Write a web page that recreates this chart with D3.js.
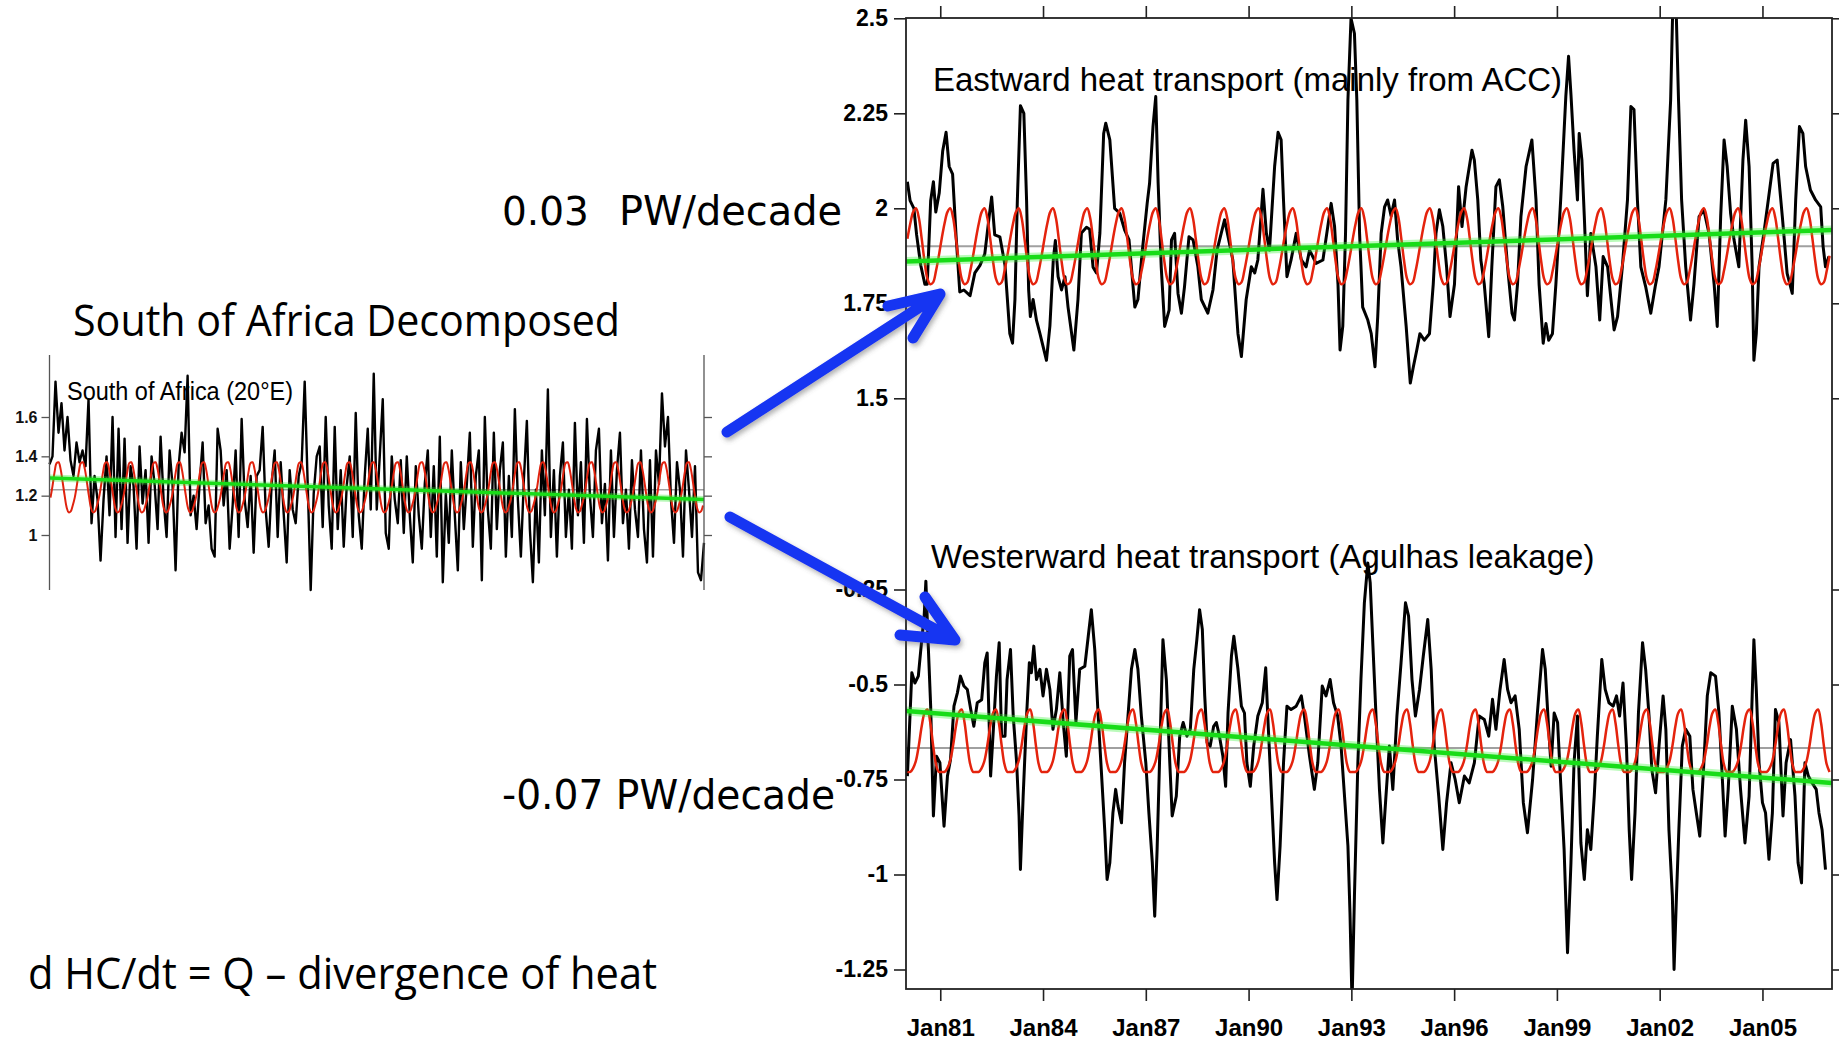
<!DOCTYPE html>
<html>
<head>
<meta charset="utf-8">
<script src="https://cdn.jsdelivr.net/npm/d3@7"></script>
<style>
  html, body { margin: 0; padding: 0; background: #fff; }
  svg { display: block; }
</style>
</head>
<body>
<svg id="slide" width="1839" height="1044"></svg>
<script>
// ---- values ----
var years = [1980, 2007.03];
var tickYears = [1981, 1984, 1987, 1990, 1993, 1996, 1999, 2002, 2005];
var eastTicks = [2.5, 2.25, 2, 1.75, 1.5];
var westTicks = [-0.25, -0.5, -0.75, -1, -1.25];
var africaTicks = [1.6, 1.4, 1.2, 1];

// seasonal cycle (Jan..Dec), repeated every year (red)
var eastSeason = [1.92, 1.96, 1.99, 2.0, 1.975, 1.92, 1.86, 1.815, 1.80, 1.805, 1.835, 1.875];
var westSeason = [-0.73, -0.73, -0.72, -0.70, -0.66, -0.61, -0.575, -0.566, -0.60, -0.66, -0.71, -0.73];
var africaSeason = [1.19, 1.25, 1.32, 1.365, 1.37, 1.335, 1.27, 1.20, 1.14, 1.115, 1.12, 1.15];

// mean (grey) and linear trend start/end (green)
var eastMean = 1.90, westMean = -0.667, africaMean = 1.23;
var eastTrend = [1.86, 1.943];
var westTrend = [-0.57, -0.759];
var africaTrend = [1.29, 1.18];

// eastward heat transport, [year, PW]
var eastward = [[1980.04,2.07],[1980.12,2.02],[1980.23,2.00],[1980.31,1.93],[1980.43,1.85],[1980.55,1.80],[1980.62,1.80],[1980.72,2.02],[1980.80,2.07],[1980.87,1.99],[1980.97,2.04],[1981.07,2.15],[1981.17,2.20],[1981.26,2.11],[1981.36,2.09],[1981.46,1.93],[1981.57,1.78],[1981.69,1.785],[1981.87,1.77],[1982.01,1.83],[1982.16,1.85],[1982.30,1.88],[1982.43,1.98],[1982.50,2.03],[1982.59,1.93],[1982.74,1.925],[1982.89,1.85],[1983.03,1.67],[1983.11,1.645],[1983.18,1.76],[1983.25,2.02],[1983.34,2.27],[1983.44,2.25],[1983.52,2.02],[1983.58,1.785],[1983.63,1.715],[1983.71,1.76],[1983.81,1.705],[1983.91,1.67],[1984.10,1.60],[1984.20,1.69],[1984.30,1.865],[1984.36,1.915],[1984.44,1.82],[1984.54,1.785],[1984.64,1.82],[1984.73,1.74],[1984.90,1.627],[1985.02,1.76],[1985.12,1.935],[1985.27,1.95],[1985.36,1.945],[1985.46,1.845],[1985.56,1.83],[1985.66,1.935],[1985.77,2.197],[1985.83,2.224],[1985.95,2.18],[1986.09,2.00],[1986.24,1.987],[1986.38,1.943],[1986.51,1.917],[1986.68,1.74],[1986.77,1.76],[1986.90,1.89],[1987.04,2.013],[1987.11,2.066],[1987.21,2.215],[1987.29,2.294],[1987.36,2.066],[1987.45,1.846],[1987.55,1.689],[1987.68,1.732],[1987.75,1.917],[1987.84,1.934],[1987.94,1.776],[1988.04,1.724],[1988.13,1.794],[1988.26,1.925],[1988.38,1.917],[1988.52,1.846],[1988.62,1.76],[1988.81,1.724],[1988.96,1.785],[1989.08,1.89],[1989.30,1.97],[1989.54,1.864],[1989.69,1.67],[1989.79,1.61],[1989.93,1.76],[1990.08,1.846],[1990.18,1.83],[1990.27,1.864],[1990.42,2.05],[1990.52,1.934],[1990.61,1.89],[1990.76,2.11],[1990.86,2.20],[1990.95,2.18],[1991.02,2.02],[1991.12,1.82],[1991.24,1.864],[1991.39,1.934],[1991.54,1.864],[1991.68,1.846],[1991.78,1.89],[1991.97,1.855],[1992.17,1.864],[1992.41,2.013],[1992.51,1.952],[1992.61,1.80],[1992.67,1.627],[1992.75,1.69],[1992.83,1.934],[1992.90,2.285],[1992.99,2.50],[1993.09,2.46],[1993.16,2.285],[1993.24,1.934],[1993.33,1.74],[1993.48,1.706],[1993.58,1.67],[1993.69,1.583],[1993.77,1.715],[1993.87,1.934],[1993.97,2.004],[1994.06,2.022],[1994.16,1.98],[1994.26,2.022],[1994.35,1.917],[1994.45,1.846],[1994.60,1.689],[1994.72,1.54],[1994.81,1.583],[1994.91,1.627],[1995.00,1.67],[1995.13,1.653],[1995.28,1.67],[1995.39,1.80],[1995.47,1.934],[1995.57,1.996],[1995.67,1.952],[1995.78,1.846],[1995.88,1.715],[1996.01,1.80],[1996.13,2.057],[1996.23,1.952],[1996.35,2.057],[1996.52,2.153],[1996.59,2.127],[1996.69,2.022],[1996.78,1.864],[1996.88,1.80],[1997.01,1.662],[1997.10,1.846],[1997.22,2.057],[1997.32,2.075],[1997.42,2.004],[1997.56,1.846],[1997.69,1.724],[1997.76,1.706],[1997.85,1.80],[1997.95,1.978],[1998.10,2.11],[1998.27,2.18],[1998.39,2.022],[1998.48,1.80],[1998.60,1.645],[1998.68,1.697],[1998.76,1.653],[1998.87,1.67],[1998.97,1.80],[1999.11,2.022],[1999.26,2.294],[1999.34,2.40],[1999.41,2.30],[1999.50,2.153],[1999.60,2.022],[1999.65,2.197],[1999.73,2.127],[1999.80,1.978],[1999.89,1.77],[1999.99,1.934],[2000.14,1.846],[2000.25,1.706],[2000.35,1.873],[2000.48,1.846],[2000.67,1.68],[2000.77,1.715],[2000.91,1.846],[2001.06,2.022],[2001.16,2.268],[2001.25,2.26],[2001.35,2.022],[2001.45,1.846],[2001.59,1.794],[2001.74,1.724],[2001.87,1.794],[2001.98,1.846],[2002.18,2.022],[2002.32,2.285],[2002.39,2.56],[2002.47,2.56],[2002.55,2.285],[2002.64,2.022],[2002.76,1.846],[2002.90,1.706],[2003.00,1.80],[2003.15,1.978],[2003.29,1.996],[2003.44,1.934],[2003.59,1.80],[2003.68,1.689],[2003.78,1.978],[2003.88,2.18],[2003.97,2.11],[2004.07,1.987],[2004.17,1.917],[2004.31,1.846],[2004.43,2.127],[2004.51,2.232],[2004.61,2.11],[2004.70,1.846],[2004.75,1.60],[2004.82,1.67],[2004.90,1.846],[2005.04,1.934],[2005.17,2.022],[2005.31,2.118],[2005.43,2.127],[2005.58,1.978],[2005.72,1.829],[2005.87,1.776],[2005.97,2.022],[2006.08,2.215],[2006.18,2.197],[2006.26,2.11],[2006.40,2.048],[2006.55,2.022],[2006.70,2.004],[2006.77,1.90],[2006.84,1.846],[2006.94,1.873]];

// westward heat transport (Agulhas leakage), [year, PW]
var westward = [[1980.04,-0.741],[1980.10,-0.618],[1980.17,-0.469],[1980.26,-0.496],[1980.36,-0.478],[1980.46,-0.382],[1980.53,-0.32],[1980.58,-0.228],[1980.65,-0.399],[1980.72,-0.557],[1980.80,-0.846],[1980.89,-0.689],[1980.99,-0.706],[1981.11,-0.873],[1981.21,-0.741],[1981.30,-0.697],[1981.40,-0.557],[1981.50,-0.522],[1981.59,-0.478],[1981.69,-0.504],[1981.79,-0.513],[1981.89,-0.566],[1981.98,-0.61],[1982.08,-0.548],[1982.21,-0.54],[1982.30,-0.443],[1982.37,-0.417],[1982.47,-0.741],[1982.55,-0.618],[1982.64,-0.478],[1982.72,-0.39],[1982.79,-0.636],[1982.89,-0.636],[1982.95,-0.487],[1983.05,-0.408],[1983.13,-0.583],[1983.23,-0.706],[1983.30,-0.846],[1983.34,-0.987],[1983.42,-0.794],[1983.52,-0.583],[1983.60,-0.443],[1983.66,-0.469],[1983.73,-0.399],[1983.81,-0.487],[1983.91,-0.46],[1984.00,-0.53],[1984.10,-0.46],[1984.20,-0.513],[1984.29,-0.618],[1984.39,-0.566],[1984.49,-0.469],[1984.59,-0.60],[1984.68,-0.689],[1984.78,-0.425],[1984.86,-0.408],[1984.96,-0.60],[1985.07,-0.46],[1985.22,-0.452],[1985.32,-0.373],[1985.41,-0.303],[1985.51,-0.408],[1985.61,-0.583],[1985.70,-0.724],[1985.80,-0.882],[1985.87,-1.013],[1985.95,-0.969],[1986.04,-0.838],[1986.12,-0.776],[1986.19,-0.82],[1986.29,-0.864],[1986.38,-0.706],[1986.48,-0.583],[1986.58,-0.46],[1986.68,-0.408],[1986.77,-0.46],[1986.87,-0.583],[1987.00,-0.706],[1987.09,-0.838],[1987.19,-0.969],[1987.26,-1.11],[1987.33,-0.934],[1987.40,-0.706],[1987.50,-0.382],[1987.60,-0.487],[1987.70,-0.706],[1987.77,-0.846],[1987.89,-0.794],[1987.99,-0.636],[1988.09,-0.60],[1988.20,-0.636],[1988.30,-0.618],[1988.40,-0.46],[1988.49,-0.382],[1988.57,-0.303],[1988.65,-0.355],[1988.72,-0.53],[1988.79,-0.653],[1988.88,-0.662],[1988.98,-0.61],[1989.06,-0.60],[1989.15,-0.636],[1989.25,-0.689],[1989.33,-0.768],[1989.40,-0.575],[1989.50,-0.425],[1989.57,-0.373],[1989.69,-0.46],[1989.79,-0.557],[1989.88,-0.575],[1989.95,-0.706],[1990.05,-0.768],[1990.15,-0.662],[1990.27,-0.583],[1990.40,-0.548],[1990.50,-0.456],[1990.56,-0.583],[1990.66,-0.776],[1990.76,-0.969],[1990.83,-1.066],[1990.92,-0.925],[1991.02,-0.706],[1991.12,-0.557],[1991.24,-0.566],[1991.39,-0.557],[1991.54,-0.53],[1991.63,-0.583],[1991.78,-0.689],[1991.92,-0.776],[1992.02,-0.706],[1992.15,-0.504],[1992.26,-0.53],[1992.38,-0.487],[1992.48,-0.548],[1992.60,-0.583],[1992.70,-0.662],[1992.80,-0.794],[1992.90,-0.925],[1992.96,-1.101],[1993.02,-1.34],[1993.09,-1.057],[1993.19,-0.706],[1993.28,-0.487],[1993.38,-0.285],[1993.48,-0.18],[1993.55,-0.232],[1993.63,-0.399],[1993.72,-0.583],[1993.82,-0.776],[1993.92,-0.917],[1994.01,-0.794],[1994.11,-0.662],[1994.21,-0.776],[1994.33,-0.583],[1994.45,-0.443],[1994.58,-0.285],[1994.67,-0.32],[1994.77,-0.487],[1994.87,-0.583],[1994.99,-0.513],[1995.10,-0.425],[1995.23,-0.329],[1995.33,-0.46],[1995.42,-0.662],[1995.55,-0.794],[1995.67,-0.934],[1995.78,-0.811],[1995.91,-0.706],[1996.03,-0.75],[1996.15,-0.811],[1996.30,-0.741],[1996.44,-0.759],[1996.59,-0.706],[1996.73,-0.583],[1996.88,-0.592],[1997.01,-0.636],[1997.12,-0.539],[1997.22,-0.618],[1997.34,-0.513],[1997.46,-0.434],[1997.56,-0.513],[1997.66,-0.548],[1997.78,-0.53],[1997.90,-0.618],[1998.02,-0.811],[1998.14,-0.89],[1998.29,-0.75],[1998.43,-0.575],[1998.58,-0.408],[1998.66,-0.46],[1998.76,-0.618],[1998.83,-0.715],[1998.92,-0.575],[1999.02,-0.60],[1999.11,-0.759],[1999.21,-0.934],[1999.31,-1.206],[1999.41,-0.969],[1999.50,-0.706],[1999.60,-0.583],[1999.70,-0.917],[1999.80,-1.013],[1999.89,-0.882],[1999.99,-0.934],[2000.09,-0.794],[2000.18,-0.636],[2000.31,-0.434],[2000.41,-0.513],[2000.52,-0.548],[2000.64,-0.557],[2000.74,-0.53],[2000.83,-0.583],[2000.93,-0.496],[2001.03,-0.662],[2001.11,-0.882],[2001.18,-1.013],[2001.28,-0.838],[2001.38,-0.575],[2001.50,-0.39],[2001.59,-0.46],[2001.69,-0.583],[2001.77,-0.724],[2001.88,-0.785],[2001.98,-0.662],[2002.10,-0.53],[2002.18,-0.618],[2002.27,-0.882],[2002.37,-1.057],[2002.42,-1.25],[2002.49,-1.057],[2002.56,-0.882],[2002.66,-0.662],[2002.76,-0.618],[2002.88,-0.636],[2002.97,-0.776],[2003.07,-0.838],[2003.17,-0.899],[2003.29,-0.706],[2003.39,-0.53],[2003.49,-0.469],[2003.63,-0.478],[2003.73,-0.575],[2003.83,-0.75],[2003.91,-0.899],[2004.00,-0.776],[2004.12,-0.557],[2004.24,-0.618],[2004.36,-0.776],[2004.49,-0.917],[2004.61,-0.794],[2004.70,-0.53],[2004.75,-0.382],[2004.82,-0.513],[2004.90,-0.706],[2005.00,-0.811],[2005.09,-0.838],[2005.19,-0.96],[2005.29,-0.838],[2005.38,-0.566],[2005.48,-0.60],[2005.60,-0.846],[2005.69,-0.706],[2005.82,-0.645],[2005.95,-0.794],[2006.04,-0.969],[2006.14,-1.022],[2006.24,-0.706],[2006.34,-0.741],[2006.45,-0.759],[2006.57,-0.776],[2006.65,-0.838],[2006.74,-0.882],[2006.84,-0.987]];

// south of Africa (20E) total, evenly spaced over 1980-2007
var africa = [1.36,1.40,1.78,1.52,1.67,1.43,1.60,1.38,1.30,1.47,
  1.37,1.43,1.35,1.69,1.06,1.30,1.18,0.87,1.18,1.40,
  1.10,1.60,0.99,1.54,1.03,1.49,0.96,1.35,1.25,0.93,
  1.45,1.16,1.33,0.96,1.40,1.26,1.03,1.50,1.18,0.99,
  1.43,1.25,0.82,1.35,1.52,1.42,1.81,1.10,1.20,1.03,
  1.26,1.47,1.06,1.15,0.93,0.89,1.54,1.43,1.15,1.33,
  0.93,1.15,1.43,0.99,1.59,1.18,1.04,1.30,0.91,1.30,
  1.33,1.55,1.13,0.94,1.26,1.43,0.99,1.37,1.11,0.86,
  1.33,1.13,1.06,1.30,1.37,1.78,1.26,0.72,1.21,1.40,
  1.45,1.04,1.60,1.15,0.93,1.55,1.03,1.33,0.94,1.25,
  1.40,0.99,1.62,1.10,0.93,1.30,1.54,1.13,1.82,1.13,
  1.40,1.69,1.01,0.93,1.40,1.18,1.06,1.38,1.01,1.40,
  1.10,0.86,1.35,1.10,0.93,1.26,1.43,0.99,1.35,0.89,
  1.50,0.76,1.21,0.96,1.43,1.10,0.82,1.37,1.03,1.26,
  1.52,0.94,1.30,1.43,0.77,1.60,1.13,0.93,1.52,1.03,
  1.33,1.47,0.89,1.30,0.99,1.64,1.18,0.89,1.28,1.58,
  1.03,0.76,1.23,0.86,1.43,1.10,1.74,0.99,1.33,0.89,
  1.30,1.47,0.99,1.23,0.93,1.57,1.10,1.37,0.96,1.59,
  1.20,0.99,1.43,1.54,1.06,1.26,0.87,1.43,0.99,1.33,
  1.52,1.06,1.23,0.93,1.38,1.13,0.99,1.43,1.03,0.86,
  1.38,0.89,1.43,1.26,1.72,1.45,1.60,1.18,0.96,1.37,
  1.23,0.89,1.43,1.23,0.99,1.35,0.81,0.77,0.96];

// ---- layout ----
var svg = d3.select('#slide');
var big = { left: 906, right: 1832, top: 18, bottom: 989 };
var small = { left: 49.5, right: 704, top: 355, bottom: 590 };
var blue = '#1434f2';

var x = d3.scaleLinear().domain(years).range([big.left, big.right]);
var yEast = d3.scaleLinear().domain([1.5, 2.5]).range([398.3, 18.3]);
var yWest = d3.scaleLinear().domain([-1.25, -0.25]).range([969.5, 589.5]);
var xs = d3.scaleLinear().domain([1980, 2007]).range([small.left, small.right]);
var ys = d3.scaleLinear().domain([1.0, 1.6]).range([535, 417]);

function tile(season) {
    var out = [];
    for (var yr = 1980; yr < 2007; yr++) {
        season.forEach(function (v, m) { out.push([yr + (m + 0.5) / 12, v]); });
    }
    return out;
}

var defs = svg.append('defs');
defs.append('clipPath').attr('id', 'bigClip').append('rect')
    .attr('x', big.left).attr('y', big.top)
    .attr('width', big.right - big.left).attr('height', big.bottom - big.top);
defs.append('filter').attr('id', 'shadow')
    .attr('x', -0.2).attr('y', -0.2).attr('width', 1.4).attr('height', 1.4)
    .append('feDropShadow').attr('dx', 2).attr('dy', 3).attr('stdDeviation', 2.5)
    .attr('flood-color', '#555').attr('flood-opacity', 0.45);

// ---- slide text ----
svg.append('text').attr('x', 73).attr('y', 336)
    .attr('textLength', 547).attr('lengthAdjust', 'spacingAndGlyphs')
    .style('font', '44px "Open Sans"').text('South of Africa Decomposed');
svg.append('text').attr('x', 28).attr('y', 989)
    .attr('textLength', 629).attr('lengthAdjust', 'spacingAndGlyphs')
    .style('font', '44px "Open Sans"').text('d HC/dt = Q \u2013 divergence of heat');
svg.append('text').attr('x', 502).attr('y', 225)
    .style('font', '39px "DejaVu Sans"').text('0.03');
svg.append('text').attr('x', 619).attr('y', 225)
    .attr('textLength', 223).attr('lengthAdjust', 'spacingAndGlyphs')
    .style('font', '40px "DejaVu Sans"').text('PW/decade');
svg.append('text').attr('x', 502).attr('y', 809)
    .attr('textLength', 333).attr('lengthAdjust', 'spacingAndGlyphs')
    .style('font', '40px "DejaVu Sans"').text('-0.07 PW/decade');

// ---- small chart: South of Africa ----
var gs = svg.append('g');
gs.append('text').attr('x', 67).attr('y', 400)
    .attr('textLength', 226).attr('lengthAdjust', 'spacingAndGlyphs')
    .style('font', '25px "Liberation Sans"').text('South of Africa (20\u00b0E)');

var ls = d3.line().x(function (d) { return xs(d[0]); }).y(function (d) { return ys(d[1]); });
var step = 27 / (africa.length - 1);
var africaPts = africa.map(function (v, i) { return [1980 + i * step, v]; });

gs.append('line').attr('x1', small.left).attr('x2', small.right)
    .attr('y1', ys(africaMean)).attr('y2', ys(africaMean))
    .attr('stroke', '#a0a0a0').attr('stroke-width', 1.5);
gs.append('path').datum(africaPts).attr('d', ls)
    .attr('fill', 'none').attr('stroke', '#000').attr('stroke-width', 2.4).attr('stroke-linejoin', 'round');
gs.append('path').datum(tile(africaSeason)).attr('d', ls.curve(d3.curveCatmullRom))
    .attr('fill', 'none').attr('stroke', '#e0220e').attr('stroke-width', 2);
ls.curve(d3.curveLinear);
var africaTrendPts = [[1980, africaTrend[0]], [2007, africaTrend[1]]];
gs.append('path').datum(africaTrendPts).attr('d', ls)
    .attr('stroke', '#2ee82e').attr('stroke-opacity', 0.35).attr('stroke-width', 7);
gs.append('path').datum(africaTrendPts).attr('d', ls)
    .attr('stroke', '#18dc18').attr('stroke-width', 3.5);

var sLeft = gs.append('g').attr('transform', 'translate(' + small.left + ',0)')
    .call(d3.axisLeft(ys).tickValues(africaTicks).tickSize(8).tickPadding(4)
        .tickFormat(function (d) { return String(d); }));
var sRight = gs.append('g').attr('transform', 'translate(' + small.right + ',0)')
    .call(d3.axisRight(ys).tickValues(africaTicks).tickSize(8).tickFormat(''));
[sLeft, sRight].forEach(function (a) {
    a.select('.domain').remove();
    a.selectAll('line').attr('stroke', '#555').attr('stroke-width', 1.3);
});
sLeft.selectAll('text').style('font', 'bold 16px "Liberation Sans"').attr('fill', '#111');
gs.append('line').attr('x1', small.left).attr('x2', small.left)
    .attr('y1', small.top).attr('y2', small.bottom).attr('stroke', '#555').attr('stroke-width', 1.3);
gs.append('line').attr('x1', small.right).attr('x2', small.right)
    .attr('y1', small.top).attr('y2', small.bottom).attr('stroke', '#555').attr('stroke-width', 1.3);

// ---- big chart: east (top) and west (bottom) transports ----
var gb = svg.append('g');
gb.append('text').attr('x', 933).attr('y', 91)
    .style('font', '33px "Liberation Sans"').text('Eastward heat transport (mainly from ACC)');
gb.append('text').attr('x', 931).attr('y', 568)
    .style('font', '33px "Liberation Sans"').text('Westerward heat transport (Agulhas leakage)');

var plot = gb.append('g').attr('clip-path', 'url(#bigClip)');

function panel(y, series, season, mean, trend) {
    var line = d3.line().x(function (d) { return x(d[0]); }).y(function (d) { return y(d[1]); });
    plot.append('line').attr('x1', big.left).attr('x2', big.right)
        .attr('y1', y(mean)).attr('y2', y(mean))
        .attr('stroke', '#a0a0a0').attr('stroke-width', 2);
    plot.append('path').datum(series).attr('d', line)
        .attr('fill', 'none').attr('stroke', '#000').attr('stroke-width', 3).attr('stroke-linejoin', 'round');
    plot.append('path').datum(tile(season)).attr('d', line.curve(d3.curveCatmullRom))
        .attr('fill', 'none').attr('stroke', '#e4230d').attr('stroke-width', 2.5);
    line.curve(d3.curveLinear);
    var pts = [[years[0], trend[0]], [years[1], trend[1]]];
    plot.append('path').datum(pts).attr('d', line)
        .attr('stroke', '#3cf03c').attr('stroke-opacity', 0.35).attr('stroke-width', 9);
    plot.append('path').datum(pts).attr('d', line)
        .attr('stroke', '#18dc18').attr('stroke-width', 4.5);
}
panel(yEast, eastward, eastSeason, eastMean, eastTrend);
panel(yWest, westward, westSeason, westMean, westTrend);

// axes
var fmt = function (d) { return String(d); };
var axes = [
    gb.append('g').attr('transform', 'translate(' + big.left + ',0)')
        .call(d3.axisLeft(yEast).tickValues(eastTicks).tickSize(12).tickPadding(6).tickFormat(fmt)),
    gb.append('g').attr('transform', 'translate(' + big.left + ',0)')
        .call(d3.axisLeft(yWest).tickValues(westTicks).tickSize(12).tickPadding(6).tickFormat(fmt)),
    gb.append('g').attr('transform', 'translate(' + big.right + ',0)')
        .call(d3.axisRight(yEast).tickValues(eastTicks).tickSize(12).tickFormat('')),
    gb.append('g').attr('transform', 'translate(' + big.right + ',0)')
        .call(d3.axisRight(yWest).tickValues(westTicks).tickSize(12).tickFormat('')),
    gb.append('g').attr('transform', 'translate(0,' + big.bottom + ')')
        .call(d3.axisBottom(x).tickValues(tickYears).tickSize(12).tickPadding(18)
            .tickFormat(function (d) { return 'Jan' + String(d).slice(2); })),
    gb.append('g').attr('transform', 'translate(0,' + big.top + ')')
        .call(d3.axisTop(x).tickValues(tickYears).tickSize(12).tickFormat(''))
];
axes.forEach(function (a) {
    a.select('.domain').remove();
    a.selectAll('line').attr('stroke', '#222').attr('stroke-width', 1.6);
    a.selectAll('text').style('font', 'bold 23px "Liberation Sans"').attr('fill', '#000');
});
axes[4].selectAll('text').style('font-size', '24px');

gb.append('rect').attr('x', big.left).attr('y', big.top)
    .attr('width', big.right - big.left).attr('height', big.bottom - big.top)
    .attr('fill', 'none').attr('stroke', '#222').attr('stroke-width', 1.8);

// ---- blue arrows linking the panels ----
var arrows = [
    { from: [727, 432], to: [940, 294], barbs: [[888, 306], [913, 338]] },
    { from: [730, 517], to: [955, 640], barbs: [[925, 597], [900, 635]] }
];
var ga = svg.append('g').attr('filter', 'url(#shadow)');
arrows.forEach(function (a) {
    var p = d3.path();
    p.moveTo(a.from[0], a.from[1]);
    p.lineTo(a.to[0], a.to[1]);
    a.barbs.forEach(function (b) { p.moveTo(b[0], b[1]); p.lineTo(a.to[0], a.to[1]); });
    ga.append('path').attr('d', p.toString())
        .attr('fill', 'none').attr('stroke', blue).attr('stroke-width', 11)
        .attr('stroke-linecap', 'round').attr('stroke-linejoin', 'round');
});
</script>
</body>
</html>
